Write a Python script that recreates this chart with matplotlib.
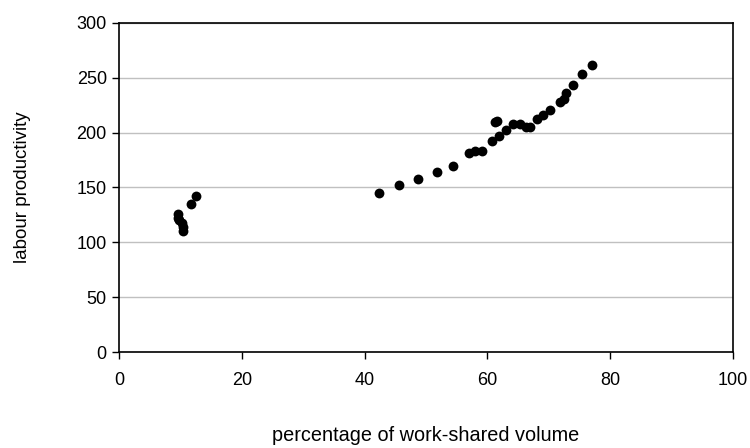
import matplotlib.pyplot as plt

# --- DATA ---
work_shared = [9.6, 9.5, 9.8, 10.3, 10.4, 10.4, 11.7, 12.5,
               42.4, 45.6, 48.7, 51.8, 54.4, 57.0, 58.0, 59.2,
               60.8, 61.3, 61.6, 61.9, 63.0, 64.1, 65.4, 66.3, 66.9,
               68.1, 69.1, 70.2, 71.8, 72.5, 72.8, 74.0, 75.4, 77.0]
productivity = [126, 122, 120, 118, 114, 110, 135, 142,
                145, 152, 158, 164, 170, 181, 183, 183,
                192, 210, 211, 197, 202, 208, 208, 205, 205,
                212, 216, 221, 228, 231, 236, 243, 253, 262]

x_ticks = [0, 20, 40, 60, 80, 100]
y_ticks = [0, 50, 100, 150, 200, 250, 300]

plt.rcParams['font.family'] = ['Liberation Sans', 'DejaVu Sans']

fig = plt.figure(figsize=(7.5, 4.48), dpi=100)
ax = fig.add_axes([0.159, 0.214, 0.818, 0.735])

ax.scatter(work_shared, productivity, s=50, color='black', zorder=3,
           linewidths=0)

ax.set_xlim(0, 100)
ax.set_ylim(0, 300)
ax.set_xticks(x_ticks)
ax.set_yticks(y_ticks)
ax.yaxis.grid(True, color='#c0c0c0', linewidth=1)
ax.set_axisbelow(True)

for s in ax.spines.values():
    s.set_color('black')
    s.set_linewidth(1.2)

ax.tick_params(axis='both', direction='out', length=5, width=1,
               labelsize=13, colors='black')
ax.tick_params(axis='x', pad=9)
ax.tick_params(axis='y', pad=4)

ax.set_xlabel('percentage of work-shared volume', fontsize=14.3, labelpad=27)
ax.set_ylabel('labour productivity', fontsize=13.5, labelpad=33)

fig.savefig('out.png', dpi=100)
